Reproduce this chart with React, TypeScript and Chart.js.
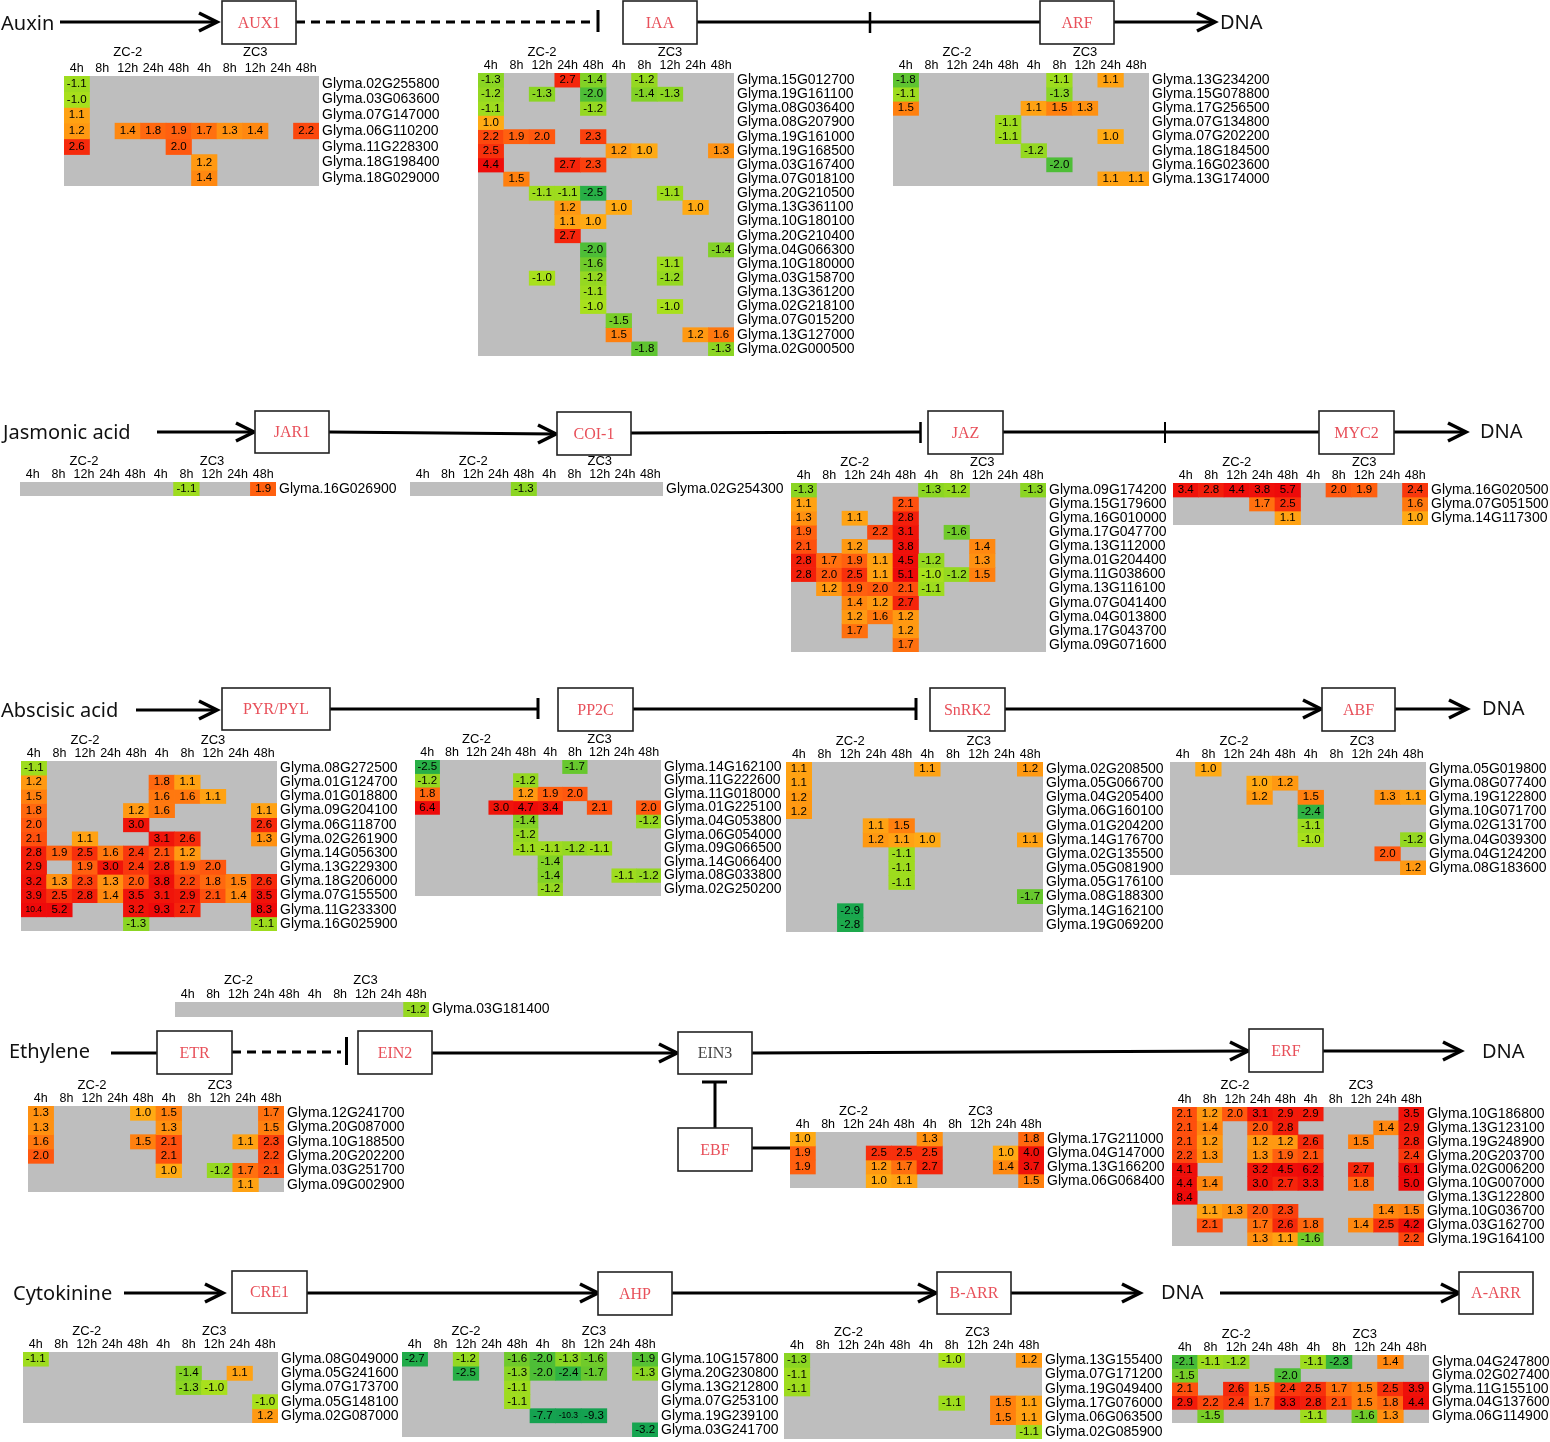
import React, { useEffect, useRef } from "react";
import { Chart, registerables } from "chart.js";

Chart.register(...registerables);

const _ = null;
const times = ["4h", "8h", "12h", "24h", "48h", "4h", "8h", "12h", "24h", "48h"];
const groupNames = ["ZC-2", "ZC3"];

const aux1Genes = ["Glyma.02G255800", "Glyma.03G063600", "Glyma.07G147000", "Glyma.06G110200", "Glyma.11G228300", "Glyma.18G198400", "Glyma.18G029000"];
const aux1Values = [[-1.1], [-1.0], [1.1], [1.2, _, 1.4, 1.8, 1.9, 1.7, 1.3, 1.4, _, 2.2], [2.6, _, _, _, 2.0], [_, _, _, _, _, 1.2], [_, _, _, _, _, 1.4]];

const iaaGenes = ["Glyma.15G012700", "Glyma.19G161100", "Glyma.08G036400", "Glyma.08G207900", "Glyma.19G161000", "Glyma.19G168500", "Glyma.03G167400", "Glyma.07G018100", "Glyma.20G210500", "Glyma.13G361100", "Glyma.10G180100", "Glyma.20G210400", "Glyma.04G066300", "Glyma.10G180000", "Glyma.03G158700", "Glyma.13G361200", "Glyma.02G218100", "Glyma.07G015200", "Glyma.13G127000", "Glyma.02G000500"];
const iaaValues = [
  [-1.3, _, _, 2.7, -1.4, _, -1.2],
  [-1.2, _, -1.3, _, -2.0, _, -1.4, -1.3],
  [-1.1, _, _, _, -1.2],
  [1.0],
  [2.2, 1.9, 2.0, _, 2.3],
  [2.5, _, _, _, _, 1.2, 1.0, _, _, 1.3],
  [4.4, _, _, 2.7, 2.3],
  [_, 1.5],
  [_, _, -1.1, -1.1, -2.5, _, _, -1.1],
  [_, _, _, 1.2, _, 1.0, _, _, 1.0],
  [_, _, _, 1.1, 1.0],
  [_, _, _, 2.7],
  [_, _, _, _, -2.0, _, _, _, _, -1.4],
  [_, _, _, _, -1.6, _, _, -1.1],
  [_, _, -1.0, _, -1.2, _, _, -1.2],
  [_, _, _, _, -1.1],
  [_, _, _, _, -1.0, _, _, -1.0],
  [_, _, _, _, _, -1.5],
  [_, _, _, _, _, 1.5, _, _, 1.2, 1.6],
  [_, _, _, _, _, _, -1.8, _, _, -1.3],
];

const arfGenes = ["Glyma.13G234200", "Glyma.15G078800", "Glyma.17G256500", "Glyma.07G134800", "Glyma.07G202200", "Glyma.18G184500", "Glyma.16G023600", "Glyma.13G174000"];
const arfValues = [
  [-1.8, _, _, _, _, _, -1.1, _, 1.1],
  [-1.1, _, _, _, _, _, -1.3],
  [1.5, _, _, _, _, 1.1, 1.5, 1.3],
  [_, _, _, _, -1.1],
  [_, _, _, _, -1.1, _, _, _, 1.0],
  [_, _, _, _, _, -1.2],
  [_, _, _, _, _, _, -2.0],
  [_, _, _, _, _, _, _, _, 1.1, 1.1],
];

const jar1Genes = ["Glyma.16G026900"];
const jar1Values = [[_, _, _, _, _, _, -1.1, _, _, 1.9]];

const coi1Genes = ["Glyma.02G254300"];
const coi1Values = [[_, _, _, _, -1.3]];

const jazGenes = ["Glyma.09G174200", "Glyma.15G179600", "Glyma.16G010000", "Glyma.17G047700", "Glyma.13G112000", "Glyma.01G204400", "Glyma.11G038600", "Glyma.13G116100", "Glyma.07G041400", "Glyma.04G013800", "Glyma.17G043700", "Glyma.09G071600"];
const jazValues = [
  [-1.3, _, _, _, _, -1.3, -1.2, _, _, -1.3],
  [1.1, _, _, _, 2.1],
  [1.3, _, 1.1, _, 2.8],
  [1.9, _, _, 2.2, 3.1, _, -1.6],
  [2.1, _, 1.2, _, 3.8, _, _, 1.4],
  [2.8, 1.7, 1.9, 1.1, 4.5, -1.2, _, 1.3],
  [2.8, 2.0, 2.5, 1.1, 5.1, -1.0, -1.2, 1.5],
  [_, 1.2, 1.9, 2.0, 2.1, -1.1],
  [_, _, 1.4, 1.2, 2.7],
  [_, _, 1.2, 1.6, 1.2],
  [_, _, 1.7, _, 1.2],
  [_, _, _, _, 1.7],
];

const myc2Genes = ["Glyma.16G020500", "Glyma.07G051500", "Glyma.14G117300"];
const myc2Values = [
  [3.4, 2.8, 4.4, 3.8, 5.7, _, 2.0, 1.9, _, 2.4],
  [_, _, _, 1.7, 2.5, _, _, _, _, 1.6],
  [_, _, _, _, 1.1, _, _, _, _, 1.0],
];

const pyrGenes = ["Glyma.08G272500", "Glyma.01G124700", "Glyma.01G018800", "Glyma.09G204100", "Glyma.06G118700", "Glyma.02G261900", "Glyma.14G056300", "Glyma.13G229300", "Glyma.18G206000", "Glyma.07G155500", "Glyma.11G233300", "Glyma.16G025900"];
const pyrValues = [
  [-1.1],
  [1.2, _, _, _, _, 1.8, 1.1],
  [1.5, _, _, _, _, 1.6, 1.6, 1.1],
  [1.8, _, _, _, 1.2, 1.6, _, _, _, 1.1],
  [2.0, _, _, _, 3.0, _, _, _, _, 2.6],
  [2.1, _, 1.1, _, _, 3.1, 2.6, _, _, 1.3],
  [2.8, 1.9, 2.5, 1.6, 2.4, 2.1, 1.2],
  [2.9, _, 1.9, 3.0, 2.4, 2.8, 1.9, 2.0],
  [3.2, 1.3, 2.3, 1.3, 2.0, 3.8, 2.2, 1.8, 1.5, 2.6],
  [3.9, 2.5, 2.8, 1.4, 3.5, 3.1, 2.9, 2.1, 1.4, 3.5],
  [10.4, 5.2, _, _, 3.2, 9.3, 2.7, _, _, 8.3],
  [_, _, _, _, -1.3, _, _, _, _, -1.1],
];

const pp2cGenes = ["Glyma.14G162100", "Glyma.11G222600", "Glyma.11G018000", "Glyma.01G225100", "Glyma.04G053800", "Glyma.06G054000", "Glyma.09G066500", "Glyma.14G066400", "Glyma.08G033800", "Glyma.02G250200"];
const pp2cValues = [
  [-2.5, _, _, _, _, _, -1.7],
  [-1.2, _, _, _, -1.2],
  [1.8, _, _, _, 1.2, 1.9, 2.0],
  [6.4, _, _, 3.0, 4.7, 3.4, _, 2.1, _, 2.0],
  [_, _, _, _, -1.4, _, _, _, _, -1.2],
  [_, _, _, _, -1.2],
  [_, _, _, _, -1.1, -1.1, -1.2, -1.1],
  [_, _, _, _, _, -1.4],
  [_, _, _, _, _, -1.4, _, _, -1.1, -1.2],
  [_, _, _, _, _, -1.2],
];

const snrk2Genes = ["Glyma.02G208500", "Glyma.05G066700", "Glyma.04G205400", "Glyma.06G160100", "Glyma.01G204200", "Glyma.14G176700", "Glyma.02G135500", "Glyma.05G081900", "Glyma.05G176100", "Glyma.08G188300", "Glyma.14G162100", "Glyma.19G069200"];
const snrk2Values = [
  [1.1, _, _, _, _, 1.1, _, _, _, 1.2],
  [1.1],
  [1.2],
  [1.2],
  [_, _, _, 1.1, 1.5],
  [_, _, _, 1.2, 1.1, 1.0, _, _, _, 1.1],
  [_, _, _, _, -1.1],
  [_, _, _, _, -1.1],
  [_, _, _, _, -1.1],
  [_, _, _, _, _, _, _, _, _, -1.7],
  [_, _, -2.9],
  [_, _, -2.8],
];

const abfGenes = ["Glyma.05G019800", "Glyma.08G077400", "Glyma.19G122800", "Glyma.10G071700", "Glyma.02G131700", "Glyma.04G039300", "Glyma.04G124200", "Glyma.08G183600"];
const abfValues = [
  [_, 1.0],
  [_, _, _, 1.0, 1.2],
  [_, _, _, 1.2, _, 1.5, _, _, 1.3, 1.1],
  [_, _, _, _, _, -2.4],
  [_, _, _, _, _, -1.1],
  [_, _, _, _, _, -1.0, _, _, _, -1.2],
  [_, _, _, _, _, _, _, _, 2.0],
  [_, _, _, _, _, _, _, _, _, 1.2],
];

const ein2Genes = ["Glyma.03G181400"];
const ein2Values = [[_, _, _, _, _, _, _, _, _, -1.2]];

const etrGenes = ["Glyma.12G241700", "Glyma.20G087000", "Glyma.10G188500", "Glyma.20G202200", "Glyma.03G251700", "Glyma.09G002900"];
const etrValues = [
  [1.3, _, _, _, 1.0, 1.5, _, _, _, 1.7],
  [1.3, _, _, _, _, 1.3, _, _, _, 1.5],
  [1.6, _, _, _, 1.5, 2.1, _, _, 1.1, 2.3],
  [2.0, _, _, _, _, 2.1, _, _, _, 2.2],
  [_, _, _, _, _, 1.0, _, -1.2, 1.7, 2.1],
  [_, _, _, _, _, _, _, _, 1.1],
];

const ebfGenes = ["Glyma.17G211000", "Glyma.04G147000", "Glyma.13G166200", "Glyma.06G068400"];
const ebfValues = [
  [1.0, _, _, _, _, 1.3, _, _, _, 1.8],
  [1.9, _, _, 2.5, 2.5, 2.5, _, _, 1.0, 4.0],
  [1.9, _, _, 1.2, 1.7, 2.7, _, _, 1.4, 3.7],
  [_, _, _, 1.0, 1.1, _, _, _, _, 1.5],
];

const erfGenes = ["Glyma.10G186800", "Glyma.13G123100", "Glyma.19G248900", "Glyma.20G203700", "Glyma.02G006200", "Glyma.10G007000", "Glyma.13G122800", "Glyma.10G036700", "Glyma.03G162700", "Glyma.19G164100"];
const erfValues = [
  [2.1, 1.2, 2.0, 3.1, 2.9, 2.9, _, _, _, 3.5],
  [2.1, 1.4, _, 2.0, 2.8, _, _, _, 1.4, 2.9],
  [2.1, 1.2, _, 1.2, 1.2, 2.6, _, 1.5, _, 2.8],
  [2.2, 1.3, _, 1.3, 1.9, 2.1, _, _, _, 2.4],
  [4.1, _, _, 3.2, 4.5, 6.2, _, 2.7, _, 6.1],
  [4.4, 1.4, _, 3.0, 2.7, 3.3, _, 1.8, _, 5.0],
  [8.4],
  [_, 1.1, 1.3, 2.0, 2.3, _, _, _, 1.4, 1.5],
  [_, 2.1, _, 1.7, 2.6, 1.8, _, 1.4, 2.5, 4.2],
  [_, _, _, 1.3, 1.1, -1.6, _, _, _, 2.2],
];

const cre1Genes = ["Glyma.08G049000", "Glyma.05G241600", "Glyma.07G173700", "Glyma.05G148100", "Glyma.02G087000"];
const cre1Values = [
  [-1.1],
  [_, _, _, _, _, _, -1.4, _, 1.1],
  [_, _, _, _, _, _, -1.3, -1.0],
  [_, _, _, _, _, _, _, _, _, -1.0],
  [_, _, _, _, _, _, _, _, _, 1.2],
];

const ahpGenes = ["Glyma.10G157800", "Glyma.20G230800", "Glyma.13G212800", "Glyma.07G253100", "Glyma.19G239100", "Glyma.03G241700"];
const ahpValues = [
  [-2.7, _, -1.2, _, -1.6, -2.0, -1.3, -1.6, _, -1.9],
  [_, _, -2.5, _, -1.3, -2.0, -2.4, -1.7, _, -1.3],
  [_, _, _, _, -1.1],
  [_, _, _, _, -1.1],
  [_, _, _, _, _, -7.7, -10.3, -9.3],
  [_, _, _, _, _, _, _, _, _, -3.2],
];

const barrGenes = ["Glyma.13G155400", "Glyma.07G171200", "Glyma.19G049400", "Glyma.17G076000", "Glyma.06G063500", "Glyma.02G085900"];
const barrValues = [
  [-1.3, _, _, _, _, _, -1.0, _, _, 1.2],
  [-1.1],
  [-1.1],
  [_, _, _, _, _, _, -1.1, _, 1.5, 1.1],
  [_, _, _, _, _, _, _, _, 1.5, 1.1],
  [_, _, _, _, _, _, _, _, _, -1.1],
];

const aarrGenes = ["Glyma.04G247800", "Glyma.02G027400", "Glyma.11G155100", "Glyma.04G137600", "Glyma.06G114900"];
const aarrValues = [
  [-2.1, -1.1, -1.2, _, _, -1.1, -2.3, _, 1.4],
  [-1.5, _, _, _, -2.0],
  [2.1, _, 2.6, 1.5, 2.4, 2.5, 1.7, 1.5, 2.5, 3.9],
  [2.9, 2.2, 2.4, 1.7, 3.3, 2.8, 2.1, 1.5, 1.8, 4.4],
  [_, -1.5, _, _, _, -1.1, _, -1.6, 1.3],
];

// Layout of the heat-map panels: left, right, top, bottom of the cell area, and the height of the group title above it.
const panels = [
  { genes: aux1Genes, values: aux1Values, box: [64, 319, 76, 186], zc: 24 },
  { genes: iaaGenes, values: iaaValues, box: [478, 734, 73, 356], zc: 21 },
  { genes: arfGenes, values: arfValues, box: [893, 1149, 73, 186], zc: 21 },
  { genes: jar1Genes, values: jar1Values, box: [20, 276, 482, 496], zc: 21 },
  { genes: coi1Genes, values: coi1Values, box: [410, 663, 482, 496], zc: 21 },
  { genes: jazGenes, values: jazValues, box: [791, 1046, 483, 652], zc: 21 },
  { genes: myc2Genes, values: myc2Values, box: [1173, 1428, 483, 525], zc: 21 },
  { genes: pyrGenes, values: pyrValues, box: [21, 277, 761, 931], zc: 21 },
  { genes: pp2cGenes, values: pp2cValues, box: [415, 661, 760, 896], zc: 21 },
  { genes: snrk2Genes, values: snrk2Values, box: [786, 1043, 762, 932], zc: 21 },
  { genes: abfGenes, values: abfValues, box: [1170, 1426, 762, 875], zc: 21 },
  { genes: ein2Genes, values: ein2Values, box: [175, 429, 1002, 1017], zc: 22 },
  { genes: etrGenes, values: etrValues, box: [28, 284, 1106, 1192], zc: 21 },
  { genes: ebfGenes, values: ebfValues, box: [790, 1044, 1132, 1188], zc: 21 },
  { genes: erfGenes, values: erfValues, box: [1172, 1424, 1107, 1246], zc: 22 },
  { genes: cre1Genes, values: cre1Values, box: [23, 278, 1352, 1423], zc: 21 },
  { genes: ahpGenes, values: ahpValues, box: [402, 658, 1352, 1437], zc: 21 },
  { genes: barrGenes, values: barrValues, box: [784, 1042, 1353, 1439], zc: 21 },
  { genes: aarrGenes, values: aarrValues, box: [1172, 1429, 1355, 1423], zc: 21 },
];

// Pathway diagram layout.
const nodes = [
  { t: "AUX1", b: [222, 296, 1, 44] },
  { t: "IAA", b: [623, 697, 1, 44] },
  { t: "ARF", b: [1040, 1114, 1, 44] },
  { t: "JAR1", b: [255, 329, 411, 453] },
  { t: "COI-1", b: [557, 631, 412, 455] },
  { t: "JAZ", b: [928, 1003, 411, 454] },
  { t: "MYC2", b: [1319, 1394, 411, 454] },
  { t: "PYR/PYL", b: [222, 330, 688, 730] },
  { t: "PP2C", b: [558, 633, 688, 731] },
  { t: "SnRK2", b: [930, 1005, 688, 731] },
  { t: "ABF", b: [1322, 1395, 688, 731] },
  { t: "ETR", b: [157, 232, 1031, 1074] },
  { t: "EIN2", b: [358, 432, 1031, 1074] },
  { t: "EIN3", b: [678, 752, 1032, 1074], dark: true },
  { t: "ERF", b: [1249, 1323, 1029, 1072] },
  { t: "EBF", b: [678, 752, 1128, 1171] },
  { t: "CRE1", b: [232, 307, 1271, 1313] },
  { t: "AHP", b: [598, 672, 1272, 1315] },
  { t: "B-ARR", b: [937, 1011, 1272, 1314] },
  { t: "A-ARR", b: [1459, 1533, 1272, 1314] },
];

const captions = [
  { t: "Auxin", x: 1, y: 24 },
  { t: "DNA", x: 1220, y: 23 },
  { t: "Jasmonic acid", x: 3, y: 433 },
  { t: "DNA", x: 1480, y: 432 },
  { t: "Abscisic acid", x: 1, y: 711 },
  { t: "DNA", x: 1482, y: 709 },
  { t: "Ethylene", x: 9, y: 1052 },
  { t: "DNA", x: 1482, y: 1052 },
  { t: "Cytokinine", x: 13, y: 1294 },
  { t: "DNA", x: 1161, y: 1293 },
];

const links = [
  { p: [60, 22, 217, 22], end: "arrow" },
  { p: [296, 22, 593, 22], dash: true },
  { p: [598, 10, 598, 32] },
  { p: [697, 22, 1040, 22] },
  { p: [870, 12, 870, 33], w: 2.5 },
  { p: [1114, 22, 1215, 22], end: "arrow" },

  { p: [157, 432, 254, 432], end: "arrow" },
  { p: [329, 432, 556, 434], end: "arrow" },
  { p: [631, 433, 920, 432] },
  { p: [920.5, 422, 920.5, 443], w: 2.5 },
  { p: [1003, 432, 1319, 432] },
  { p: [1165, 422, 1165, 443], w: 2 },
  { p: [1394, 432, 1466, 432], end: "arrow" },

  { p: [136, 710, 217, 710], end: "arrow" },
  { p: [330, 709, 538, 709] },
  { p: [538, 698, 538, 719] },
  { p: [633, 709, 916, 709] },
  { p: [916, 698, 916, 720] },
  { p: [1005, 709, 1321, 709], end: "arrow" },
  { p: [1395, 709, 1467, 709], end: "arrow" },

  { p: [111, 1053, 157, 1053] },
  { p: [232, 1052, 341, 1052], dash: true },
  { p: [346.5, 1037, 346.5, 1065] },
  { p: [432, 1053, 677, 1053], end: "arrow" },
  { p: [752, 1053, 1248, 1051], end: "arrow" },
  { p: [1323, 1051, 1461, 1051], end: "arrow" },
  { p: [715, 1128, 715, 1082] },
  { p: [702, 1082, 727, 1082] },
  { p: [752, 1148, 790, 1148] },

  { p: [124, 1293, 223, 1293], end: "arrow" },
  { p: [307, 1293, 598, 1293], end: "arrow" },
  { p: [672, 1293, 936, 1293], end: "arrow" },
  { p: [1011, 1293, 1140, 1293], end: "arrow" },
  { p: [1220, 1293, 1459, 1293], end: "arrow" },
];

const PAGE_W = 1550;
const PAGE_H = 1442;
const TOP_H = 30;
const RIGHT_W = 124;
const SANS = "'Liberation Sans', Arial, sans-serif";

const posStops = [[1, 255, 170, 20], [1.5, 255, 128, 15], [2, 255, 88, 15], [2.5, 248, 48, 12], [3, 240, 20, 10], [5, 238, 10, 10]];
const negStops = [[1, 168, 224, 28], [1.5, 120, 205, 40], [2, 78, 190, 55], [2.5, 40, 175, 70], [3, 22, 165, 80], [10.5, 20, 160, 80]];

function cellColor(v: number) {
  const stops = v > 0 ? posStops : negStops;
  const a = Math.abs(v);
  for (let i = 1; i < stops.length; i++) {
    if (a <= stops[i][0]) {
      const [s0, r0, g0, b0] = stops[i - 1];
      const [s1, r1, g1, b1] = stops[i];
      const t = Math.max(0, (a - s0) / (s1 - s0));
      return `rgb(${Math.round(r0 + (r1 - r0) * t)},${Math.round(g0 + (g1 - g0) * t)},${Math.round(b0 + (b1 - b0) * t)})`;
    }
  }
  const l = stops[stops.length - 1];
  return `rgb(${l[1]},${l[2]},${l[3]})`;
}

function makePanel(canvas: HTMLCanvasElement, panel: any) {
  const { genes, values, zc } = panel;
  const datasets = values.map((row: any[], r: number) => {
    const cells = times.map((_t, c) => (row[c] === undefined ? null : row[c]));
    return {
      data: cells.map((v) => (v === null ? null : [r - 0.5, r + 0.5])),
      cellValues: cells,
      backgroundColor: cells.map((v) => (v === null ? "transparent" : cellColor(v))),
      borderWidth: 0,
      grouped: false,
      barPercentage: 1,
      categoryPercentage: 1,
    };
  });
  return new Chart(canvas, {
    type: "bar",
    data: { labels: times, datasets },
    options: {
      animation: false,
      responsive: false,
      devicePixelRatio: 1,
      events: [],
      layout: { padding: 0 },
      plugins: { legend: { display: false }, tooltip: { enabled: false } },
      scales: {
        x: {
          type: "category",
          position: "top",
          offset: true,
          grid: { display: false, drawTicks: false },
          border: { display: false },
          ticks: { color: "#000", autoSkip: false, maxRotation: 0, minRotation: 0, padding: 0, font: { family: SANS, size: 12.5 } },
          afterFit: (s: any) => {
            s.height = TOP_H;
            s.paddingLeft = 0;
            s.paddingRight = 0;
          },
        },
        y: {
          type: "linear",
          position: "right",
          reverse: true,
          min: -0.5,
          max: genes.length - 0.5,
          grid: { display: false, drawTicks: false },
          border: { display: false },
          afterBuildTicks: (s: any) => {
            s.ticks = genes.map((_g: string, i: number) => ({ value: i }));
          },
          ticks: {
            color: "#000",
            autoSkip: false,
            padding: 3,
            font: { family: SANS, size: 14 },
            callback: (v: any) => genes[v],
          },
          afterFit: (s: any) => {
            s.width = RIGHT_W;
            s.paddingTop = 0;
            s.paddingBottom = 0;
          },
        },
      },
    },
    plugins: [
      {
        id: "panelDecor",
        beforeDatasetsDraw(chart: any) {
          const { ctx, chartArea: a } = chart;
          ctx.save();
          ctx.fillStyle = "#bebebe";
          ctx.fillRect(a.left, a.top, a.right - a.left, a.bottom - a.top);
          ctx.restore();
        },
        afterDatasetsDraw(chart: any) {
          const { ctx, chartArea: a, scales } = chart;
          ctx.save();
          ctx.textAlign = "center";
          ctx.textBaseline = "middle";
          ctx.fillStyle = "#000";
          chart.data.datasets.forEach((ds: any, i: number) => {
            chart.getDatasetMeta(i).data.forEach((el: any, c: number) => {
              const v = ds.cellValues[c];
              if (v === null) return;
              const pt = el.getCenterPoint();
              ctx.font = `${Math.abs(v) >= 10 ? 8.5 : 11.5}px ${SANS}`;
              ctx.fillText(v.toFixed(1), pt.x, pt.y);
            });
          });
          ctx.font = `13px ${SANS}`;
          ctx.fillText(groupNames[0], scales.x.getPixelForValue(2), a.top - zc);
          ctx.fillText(groupNames[1], scales.x.getPixelForValue(7), a.top - zc);
          ctx.restore();
        },
      },
    ],
  } as any);
}

function linkDatasets() {
  const sets: any[] = [];
  links.forEach((l: any) => {
    const [x0, y0, x1, y1] = l.p;
    sets.push({
      data: [{ x: x0, y: y0 }, { x: x1, y: y1 }],
      showLine: true,
      pointRadius: 0,
      borderColor: "#000",
      borderWidth: l.w || 3,
      borderDash: l.dash ? [9, 6] : [],
    });
    if (l.end === "arrow") {
      sets.push({
        data: [{ x: x1 - 18, y: y1 - 9 }, { x: x1, y: y1 }, { x: x1 - 18, y: y1 + 9 }],
        showLine: true,
        pointRadius: 0,
        borderColor: "#000",
        borderWidth: 3.5,
      });
    }
  });
  return sets;
}

function makeDiagram(canvas: HTMLCanvasElement) {
  return new Chart(canvas, {
    type: "scatter",
    data: { datasets: linkDatasets() },
    options: {
      animation: false,
      responsive: false,
      devicePixelRatio: 1,
      events: [],
      layout: { padding: 0 },
      plugins: { legend: { display: false }, tooltip: { enabled: false } },
      scales: {
        x: { type: "linear", display: false, min: 0, max: PAGE_W },
        y: { type: "linear", display: false, min: 0, max: PAGE_H, reverse: true },
      },
    },
    plugins: [
      {
        id: "diagramDecor",
        afterDatasetsDraw(chart: any) {
          const { ctx, scales } = chart;
          const X = (v: number) => scales.x.getPixelForValue(v);
          const Y = (v: number) => scales.y.getPixelForValue(v);
          ctx.save();
          nodes.forEach((n: any) => {
            const [x0, x1, y0, y1] = n.b;
            ctx.fillStyle = "#fff";
            ctx.strokeStyle = "#222";
            ctx.lineWidth = 1.6;
            ctx.fillRect(X(x0), Y(y0), X(x1) - X(x0), Y(y1) - Y(y0));
            ctx.strokeRect(X(x0), Y(y0), X(x1) - X(x0), Y(y1) - Y(y0));
            ctx.fillStyle = n.dark ? "#444" : "#e8505a";
            ctx.font = "16px 'Liberation Serif', serif";
            ctx.textAlign = "center";
            ctx.textBaseline = "middle";
            ctx.fillText(n.t, X((x0 + x1) / 2), Y((y0 + y1) / 2 + 1));
          });
          ctx.fillStyle = "#111";
          ctx.font = "20px 'Noto Sans', sans-serif";
          ctx.textAlign = "left";
          captions.forEach((c) => ctx.fillText(c.t, X(c.x), Y(c.y)));
          ctx.restore();
        },
      },
    ],
  } as any);
}

export default function App() {
  const diagramRef = useRef<HTMLCanvasElement | null>(null);
  const panelRefs = useRef<(HTMLCanvasElement | null)[]>([]);

  useEffect(() => {
    const charts: any[] = [makeDiagram(diagramRef.current as HTMLCanvasElement)];
    panels.forEach((p, i) => charts.push(makePanel(panelRefs.current[i] as HTMLCanvasElement, p)));
    return () => charts.forEach((c) => c.destroy());
  }, []);

  return (
    <div style={{ position: "absolute", left: 0, top: 0, width: PAGE_W, height: PAGE_H, overflow: "hidden", background: "#fff" }}>
      <canvas ref={diagramRef} width={PAGE_W} height={PAGE_H} style={{ position: "absolute", left: 0, top: 0 }} />
      {panels.map((p, i) => {
        const [x0, x1, y0, y1] = p.box;
        const w = x1 - x0 + RIGHT_W;
        const h = y1 - y0 + TOP_H;
        return (
          <canvas
            key={i}
            ref={(el) => {
              panelRefs.current[i] = el;
            }}
            width={w}
            height={h}
            style={{ position: "absolute", left: x0, top: y0 - TOP_H, width: w, height: h }}
          />
        );
      })}
    </div>
  );
}
